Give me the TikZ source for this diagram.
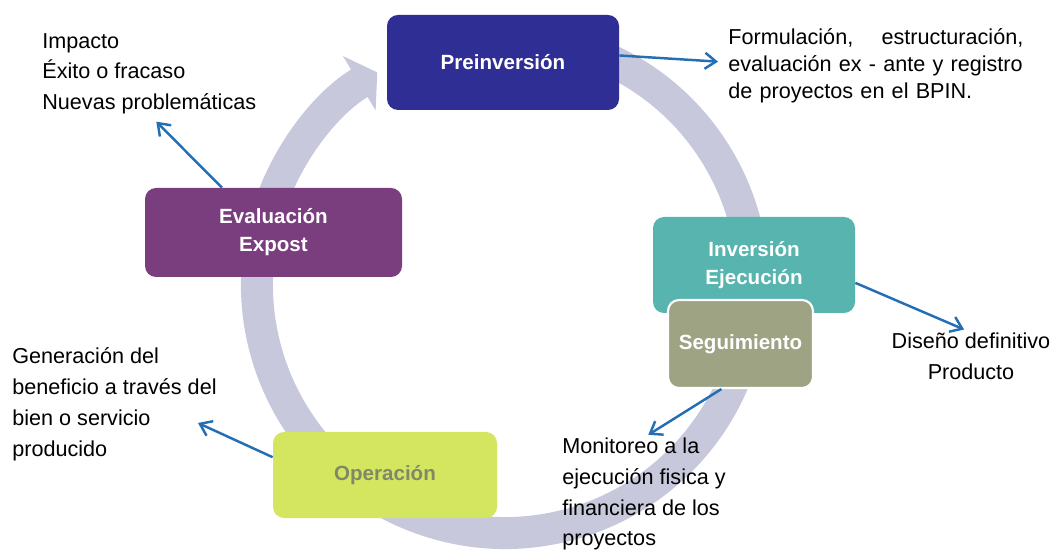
\documentclass[tikz,border=0pt]{standalone}
\usepackage{fontspec}
\setmainfont{Liberation Sans}
\usetikzlibrary{arrows.meta}
\definecolor{preblue}{RGB}{46,46,148}
\definecolor{evalpurple}{RGB}{122,62,126}
\definecolor{invteal}{RGB}{88,180,174}
\definecolor{segolive}{RGB}{158,163,132}
\definecolor{oplime}{RGB}{212,230,96}
\definecolor{optext}{RGB}{128,136,104}
\definecolor{ringgray}{RGB}{199,200,220}
\definecolor{arrowblue}{RGB}{36,110,180}
\begin{document}
\begin{tikzpicture}[
  phase/.style={rounded corners=0.22cm, text=white, align=center, inner sep=0pt,
    font={\fontsize{11.7pt}{16pt}\selectfont\bfseries}},
  note/.style={inner sep=0pt, font={\fontsize{12.3pt}{17.5pt}\selectfont}},
  link/.style={draw=arrowblue, line width=1.4pt, -{Straight Barb[length=2.2mm,width=3.2mm]}}
]
\useasboundingbox (0,0) rectangle (21.14,11.06);
\coordinate (ctr) at (10.1,5.36);
\draw[ringgray, line width=0.64cm, -{Triangle[length=0.42cm,width=1.25cm]}] (ctr) ++(70:4.96) arc[start angle=70, end angle=-239, radius=4.96];

\node[phase, fill=preblue, minimum width=4.64cm, minimum height=1.9cm] (pre) at (10.06,9.81) {Preinversión};
\node[phase, fill=evalpurple, minimum width=5.14cm, minimum height=1.78cm] (eval) at (5.47,6.41) {Evaluación\\Expost};
\node[phase, fill=invteal, minimum width=4.04cm, minimum height=1.92cm] (inv) at (15.08,5.76) {Inversión\\Ejecución};
\node[phase, fill=segolive, draw=white, line width=1.2pt, minimum width=2.9cm, minimum height=1.76cm] (seg) at (14.81,4.18) {Seguimiento};
\node[phase, fill=oplime, text=optext, minimum width=4.48cm, minimum height=1.72cm] (op) at (7.70,1.56) {Operación};

\node[note, anchor=north west, align=left] (impact) at (0.84,10.4) {Impacto\\Éxito o fracaso\\Nuevas problemáticas};
\node[note, anchor=north west, text width=5.9cm, align=left, font={\fontsize{12.3pt}{15.5pt}\selectfont}] (formtxt) at (14.56,10.5) {Formulación,\hfill estructuración,\\evaluación ex - ante y registro\\de proyectos en el BPIN.};
\node[note, anchor=north, align=center] (diseno) at (19.42,4.41) {Diseño definitivo\\Producto};
\node[note, anchor=north west, align=left] (moni) at (11.24,2.31) {Monitoreo a la\\ejecución fisica y\\financiera de los\\proyectos};
\node[note, anchor=north west, align=left] (gen) at (0.24,4.11) {Generación del\\beneficio a través del\\bien o servicio\\producido};

\coordinate (genend) at (3.96,2.6);
\draw[link, shorten >=0.2cm] ([yshift=4pt]pre.east) -- ([yshift=2pt]formtxt.west);
\draw[link, shorten >=0.2cm] (eval.139) -- (impact.south);
\draw[link, shorten >=0.15cm] (inv.-10) -- (diseno.north);
\draw[link, shorten >=0.1cm] (seg.247) -- (moni.north);
\draw[link] (op.171) -- (genend);
\end{tikzpicture}
\end{document}
